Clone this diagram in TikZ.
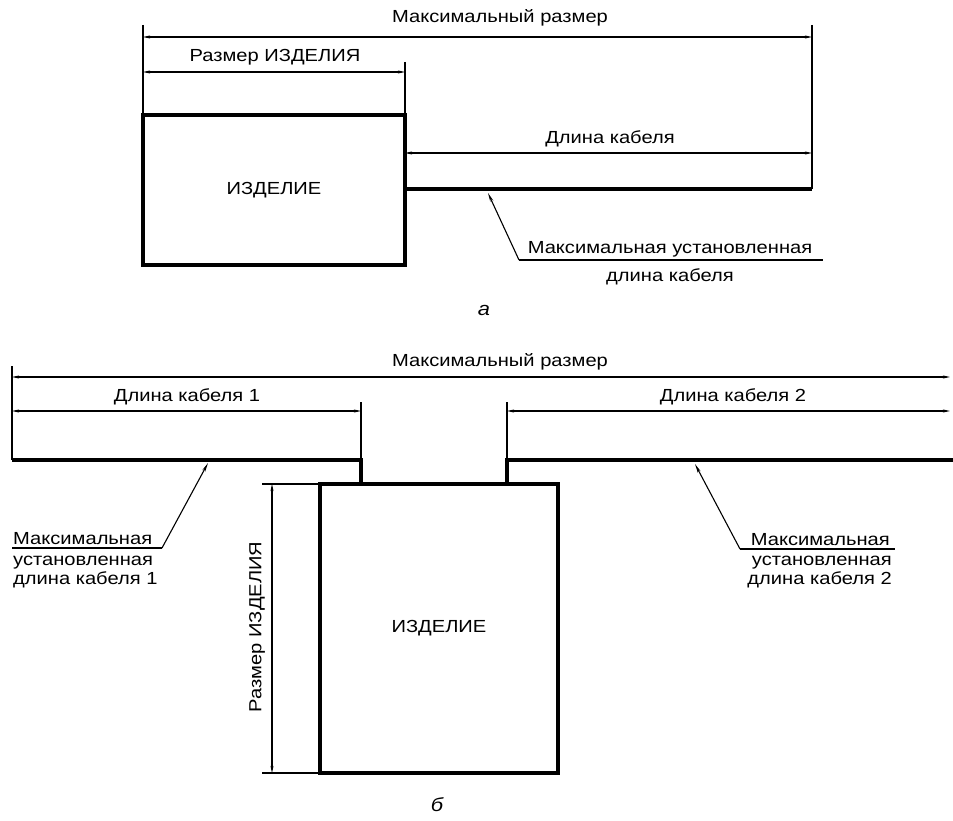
\documentclass[tikz,border=0pt]{standalone}
\usepackage{fontspec}
\setmainfont{Liberation Sans}[FakeStretch=1.15]
\usepackage{tikz}
\usetikzlibrary{arrows.meta,positioning,calc}

\tikzset{
  thickline/.style={line width=3.2pt},
  thinline/.style={line width=1.1pt},
  dimline/.style={thinline,{Stealth[length=7pt,width=3pt]}-{Stealth[length=7pt,width=3pt]}},
  leader/.style={thinline,-{Stealth[length=9pt,width=3.2pt]}},
  lbl/.style={font=\fontsize{17.5}{20}\selectfont,inner sep=1pt},
  partlbl/.style={font=\fontsize{19}{21}\selectfont\itshape,inner sep=1pt},
  itembox/.style={draw,thickline,outer sep=0pt,font=\fontsize{17.5}{20}\selectfont},
}

\begin{document}
\begin{tikzpicture}[x=1pt,y=-1pt]
		\useasboundingbox (0,0) rectangle (953,821);
		\pgfmathsetmacro{\cableA}{189}
		\pgfmathsetmacro{\cableB}{460}
		
		\node[itembox,anchor=north west,minimum width=262pt,minimum height=150pt] (itemA) at (143,115) {ИЗДЕЛИЕ};
		\coordinate (cableAend) at (812,\cableA);
		\draw[thickline] (itemA.east |- cableAend) -- (cableAend);
		
		\draw[thinline] (143,25) -- (itemA.north west);
		\draw[thinline] (812,25) -- (cableAend);
		\draw[thinline] (405,62) -- (itemA.north east);
		
		\node[lbl] (maxA) at (500,18) {Максимальный размер};
		\draw[dimline] (143,37) -- (812,37);
		\node[lbl] (sizeA) at (275,57) {Размер ИЗДЕЛИЯ};
		\draw[dimline] (143,72) -- (405,72);
		\node[lbl] (cabA) at (610,139) {Длина кабеля};
		\draw[dimline] (405,153) -- (812,153);
		
		\coordinate (tipA) at (488,\cableA+4);
		\coordinate (kneeA) at (519,260);
		\coordinate (shelfA) at (823,260);
		\draw[leader] (kneeA) -- (tipA);
		\draw[thinline] (kneeA) -- (shelfA);
		\node[lbl,anchor=south] (noteA1) at (670,258) {Максимальная установленная};
		\node[lbl] (noteA2) at (670,277) {длина кабеля};
		\node[partlbl] (partA) at (484,310) {а};
		
		\node[itembox,anchor=north west,minimum width=238pt,minimum height=289pt] (itemB) at (320,484) {ИЗДЕЛИЕ};
		\coordinate (cable1end) at (12,\cableB);
		\coordinate (cable2end) at (953,\cableB);
		\draw[thickline] (cable1end) -- (361,\cableB) -- (361,484);
		\draw[thickline] (cable2end) -- (507,\cableB) -- (507,484);
		
		\draw[thinline] (12,366) -- (cable1end);
		\draw[thinline] (361,402) -- (361,\cableB);
		\draw[thinline] (507,402) -- (507,\cableB);
		
		\node[lbl] (maxB) at (500,362) {Максимальный размер};
		\draw[dimline] (12,377) -- (950,377);
		\node[lbl] (cab1) at (187,397) {Длина кабеля 1};
		\draw[dimline] (12,411) -- (361,411);
		\node[lbl] (cab2) at (733,397) {Длина кабеля 2};
		\draw[dimline] (507,411) -- (950,411);
		
		\draw[thinline] (262,484) -- (itemB.north west);
		\draw[thinline] (262,773) -- (itemB.south west);
		\draw[dimline] (272,484) -- (272,773);
		\node[lbl,rotate=90] (sizeB) at (257,627) {Размер ИЗДЕЛИЯ};
		
		\coordinate (tip1) at (208,\cableB+3);
		\coordinate (knee1) at (162,548);
		\draw[leader] (knee1) -- (tip1);
		\draw[thinline] (12,548) -- (knee1);
		\node[lbl,anchor=south west] (note11) at (12,546) {Максимальная};
		\node[lbl,anchor=west] (note12) at (12,563) {установленная};
		\node[lbl,anchor=west] (note13) at (12,580) {длина кабеля 1};
		
		\coordinate (tip2) at (695,\cableB+4);
		\coordinate (knee2) at (740,549);
		\draw[leader] (knee2) -- (tip2);
		\draw[thinline] (knee2) -- (895,549);
		\node[lbl,anchor=south east] (note21) at (891,547) {Максимальная};
		\node[lbl,anchor=east] (note22) at (893,563) {установленная};
		\node[lbl,anchor=east] (note23) at (893,580) {длина кабеля 2};
		\node[partlbl] (partB) at (437,805) {б};
		
\end{tikzpicture}
\end{document}
